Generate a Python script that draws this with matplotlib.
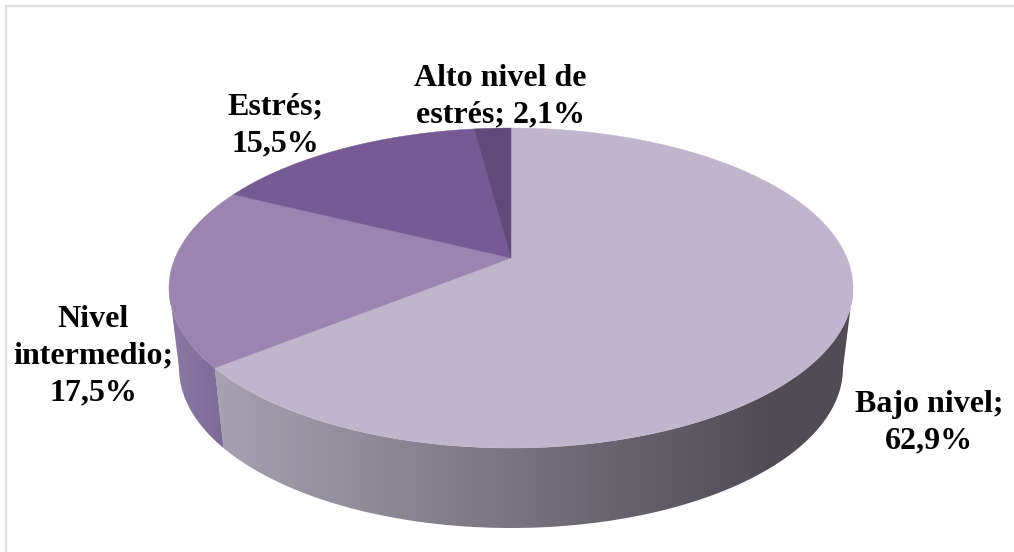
import numpy as np
import matplotlib
matplotlib.use("Agg")
import matplotlib.pyplot as plt
from matplotlib.colors import LinearSegmentedColormap
from matplotlib.patches import Polygon

categories = ['Bajo nivel', 'Nivel intermedio', 'Estrés', 'Alto nivel de estrés']
values = [62.9, 17.5, 15.5, 2.1]
label_lines = [['Bajo nivel;'], ['Nivel', 'intermedio;'], ['Estrés;'], ['Alto nivel de']]
top_colors = ['#bfb6cd', '#9985b0', '#755b94', '#604a7a']

# pie geometry in figure pixels
cx, cy = 511, 288
apex_y = 258
a_top, b_top = 342, 160
a_bot, b_bot = 332, 160
depth = 80
# angles get pushed round on the left side by the 3d view
warp = np.radians(11.5)


def screen_angle(t):
    return t - warp * np.sin(t)


def rim(t, a, b, y0):
    return np.column_stack([cx + a * np.sin(t), y0 - b * np.cos(t)])


def side_wall(ax, s0, s1, x_lo, x_hi, c_lo, c_hi):
    # side of the slice between two screen angles, shaded left to right
    s = np.linspace(s0, s1, 100)
    pts = np.vstack([rim(s, a_top, b_top, cy), rim(s[::-1], a_bot, b_bot, cy + depth)])
    cmap = LinearSegmentedColormap.from_list('wall', [c_lo, c_hi])
    xs = np.arange(0, 1014)
    shade = np.clip((xs - x_lo) / (x_hi - x_lo), 0, 1)
    im = ax.imshow(shade[None, :], cmap=cmap, aspect='auto', vmin=0, vmax=1,
                   extent=(0, 1014, 552, 0), zorder=1)
    im.set_clip_path(Polygon(pts, transform=ax.transData))


fig = plt.figure(figsize=(10.14, 5.52), dpi=100)
ax = fig.add_axes([0, 0, 1, 1])

fractions = np.array(values) / sum(values)
edges = screen_angle(2 * np.pi * np.concatenate([[0], np.cumsum(fractions)]))

# front walls
side_wall(ax, np.pi / 2, edges[1], 220, 770, '#a6a1b0', '#504c54')
side_wall(ax, edges[1], 1.5 * np.pi, 170, 225, '#8a7aa3', '#7c6a96')
ax.set_xlim(0, 1014)
ax.set_ylim(552, 0)

# top faces
for i, color in enumerate(top_colors):
    s = screen_angle(np.linspace(2 * np.pi * sum(fractions[:i]),
                                 2 * np.pi * sum(fractions[:i + 1]), 200))
    pts = np.vstack([[cx, apex_y], rim(s, a_top, b_top, cy)])
    ax.add_patch(Polygon(pts, closed=True, facecolor=color, edgecolor=color, linewidth=0.3, zorder=2))

# labels, y is the baseline of the last line
font = dict(family='Liberation Serif', fontweight='bold', fontsize=23, color='black',
            ha='center', va='baseline', linespacing=1.336, zorder=3)
fmt = [f'{v:.1f}'.replace('.', ',') + '%' for v in values]
ax.text(929, 448, label_lines[0][0] + '\n' + fmt[0], **font)
ax.text(93, 400, '\n'.join(label_lines[1]) + '\n' + fmt[1], **font)
ax.text(275, 151, label_lines[2][0] + '\n' + fmt[2], **font)
ax.text(500.5, 122, label_lines[3][0] + '\nestrés; ' + fmt[3], **font)

# chart frame, only top and left show
ax.plot([6, 6], [552, 6], color='#dfdfdf', linewidth=1.5, zorder=4)
ax.plot([6, 1014], [6, 6], color='#dfdfdf', linewidth=1.5, zorder=4)
ax.axis('off')

fig.savefig('out.png', dpi=100)
